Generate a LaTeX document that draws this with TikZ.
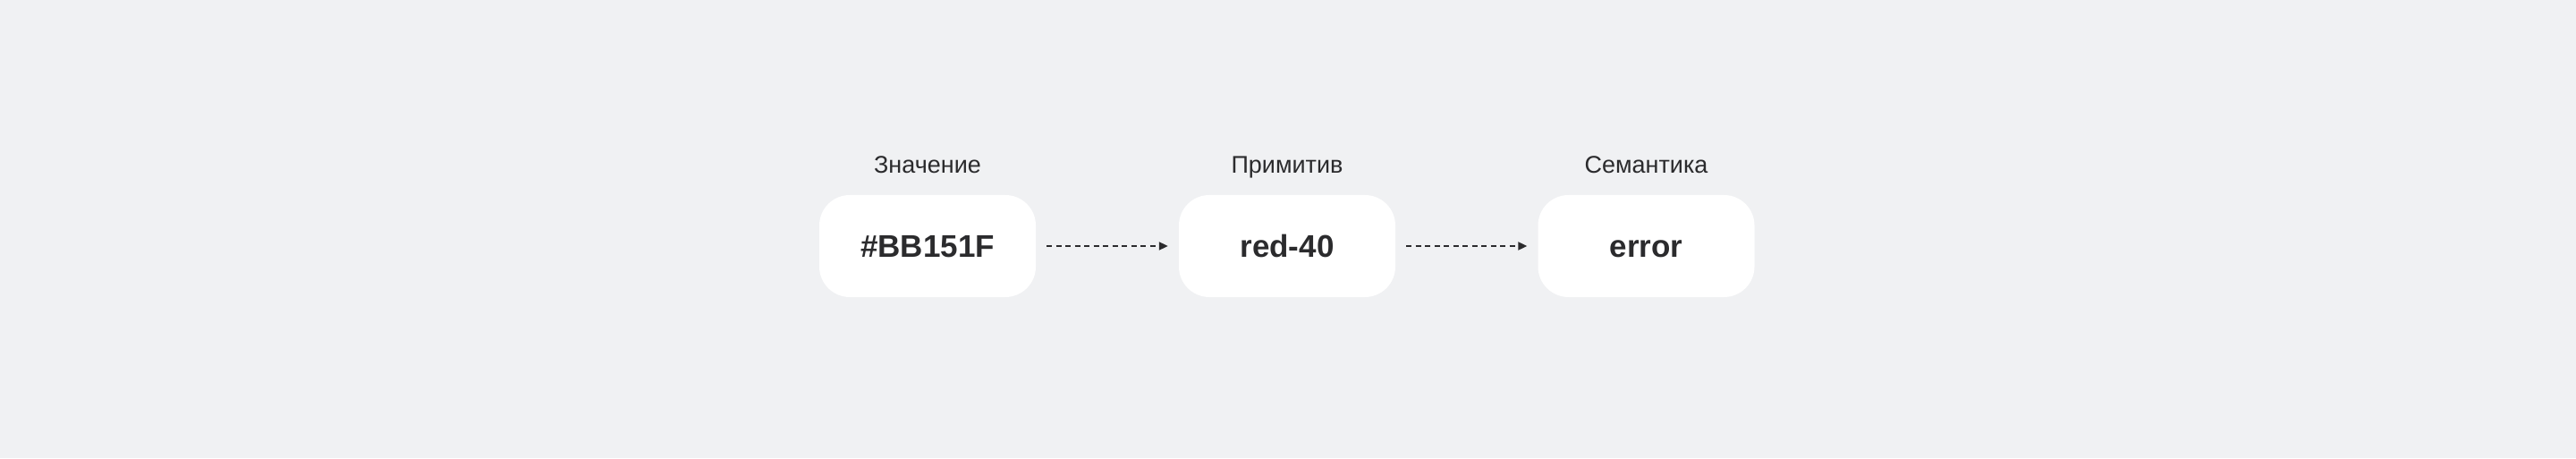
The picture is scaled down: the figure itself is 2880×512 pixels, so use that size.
\documentclass[tikz,border=0pt]{standalone}
\usepackage{fontspec}
\setmainfont{Liberation Sans}
\usetikzlibrary{arrows.meta}
\definecolor{bg}{HTML}{F0F1F3}
\definecolor{ink}{HTML}{2B2B2D}
\begin{document}
\begin{tikzpicture}[x=1pt,y=1pt,
  box/.style={fill=white, rounded corners=34pt, minimum width=242pt, minimum height=114pt, inner sep=0pt,
    text height=25pt, text depth=0pt,
    text=ink, font=\fontsize{35}{40}\selectfont\bfseries},
  lbl/.style={text=ink, inner sep=0pt, anchor=base, font=\fontsize{27}{30}\selectfont},
  link/.style={draw=ink, line width=2pt, dash pattern=on 6pt off 4.5pt,
    -{Triangle[length=10pt,width=9pt]}, shorten <=12pt, shorten >=12pt}]
\fill[bg] (0,0) rectangle (2880,512);
\useasboundingbox (0,0) rectangle (2880,512);
\node[box] (b1) at (1037,237) {\#BB151F};
\node[box] (b2) at (1439,237) {red-40};
\node[box] (b3) at (1840.5,237) {error};
\node[lbl] (l1) at (1037,318) {Значение};
\node[lbl] (l2) at (1439,318) {Примитив};
\node[lbl] (l3) at (1840.5,318) {Семантика};
\draw[link] (b1) -- (b2);
\draw[link] (b2) -- (b3);
\end{tikzpicture}
\end{document}
